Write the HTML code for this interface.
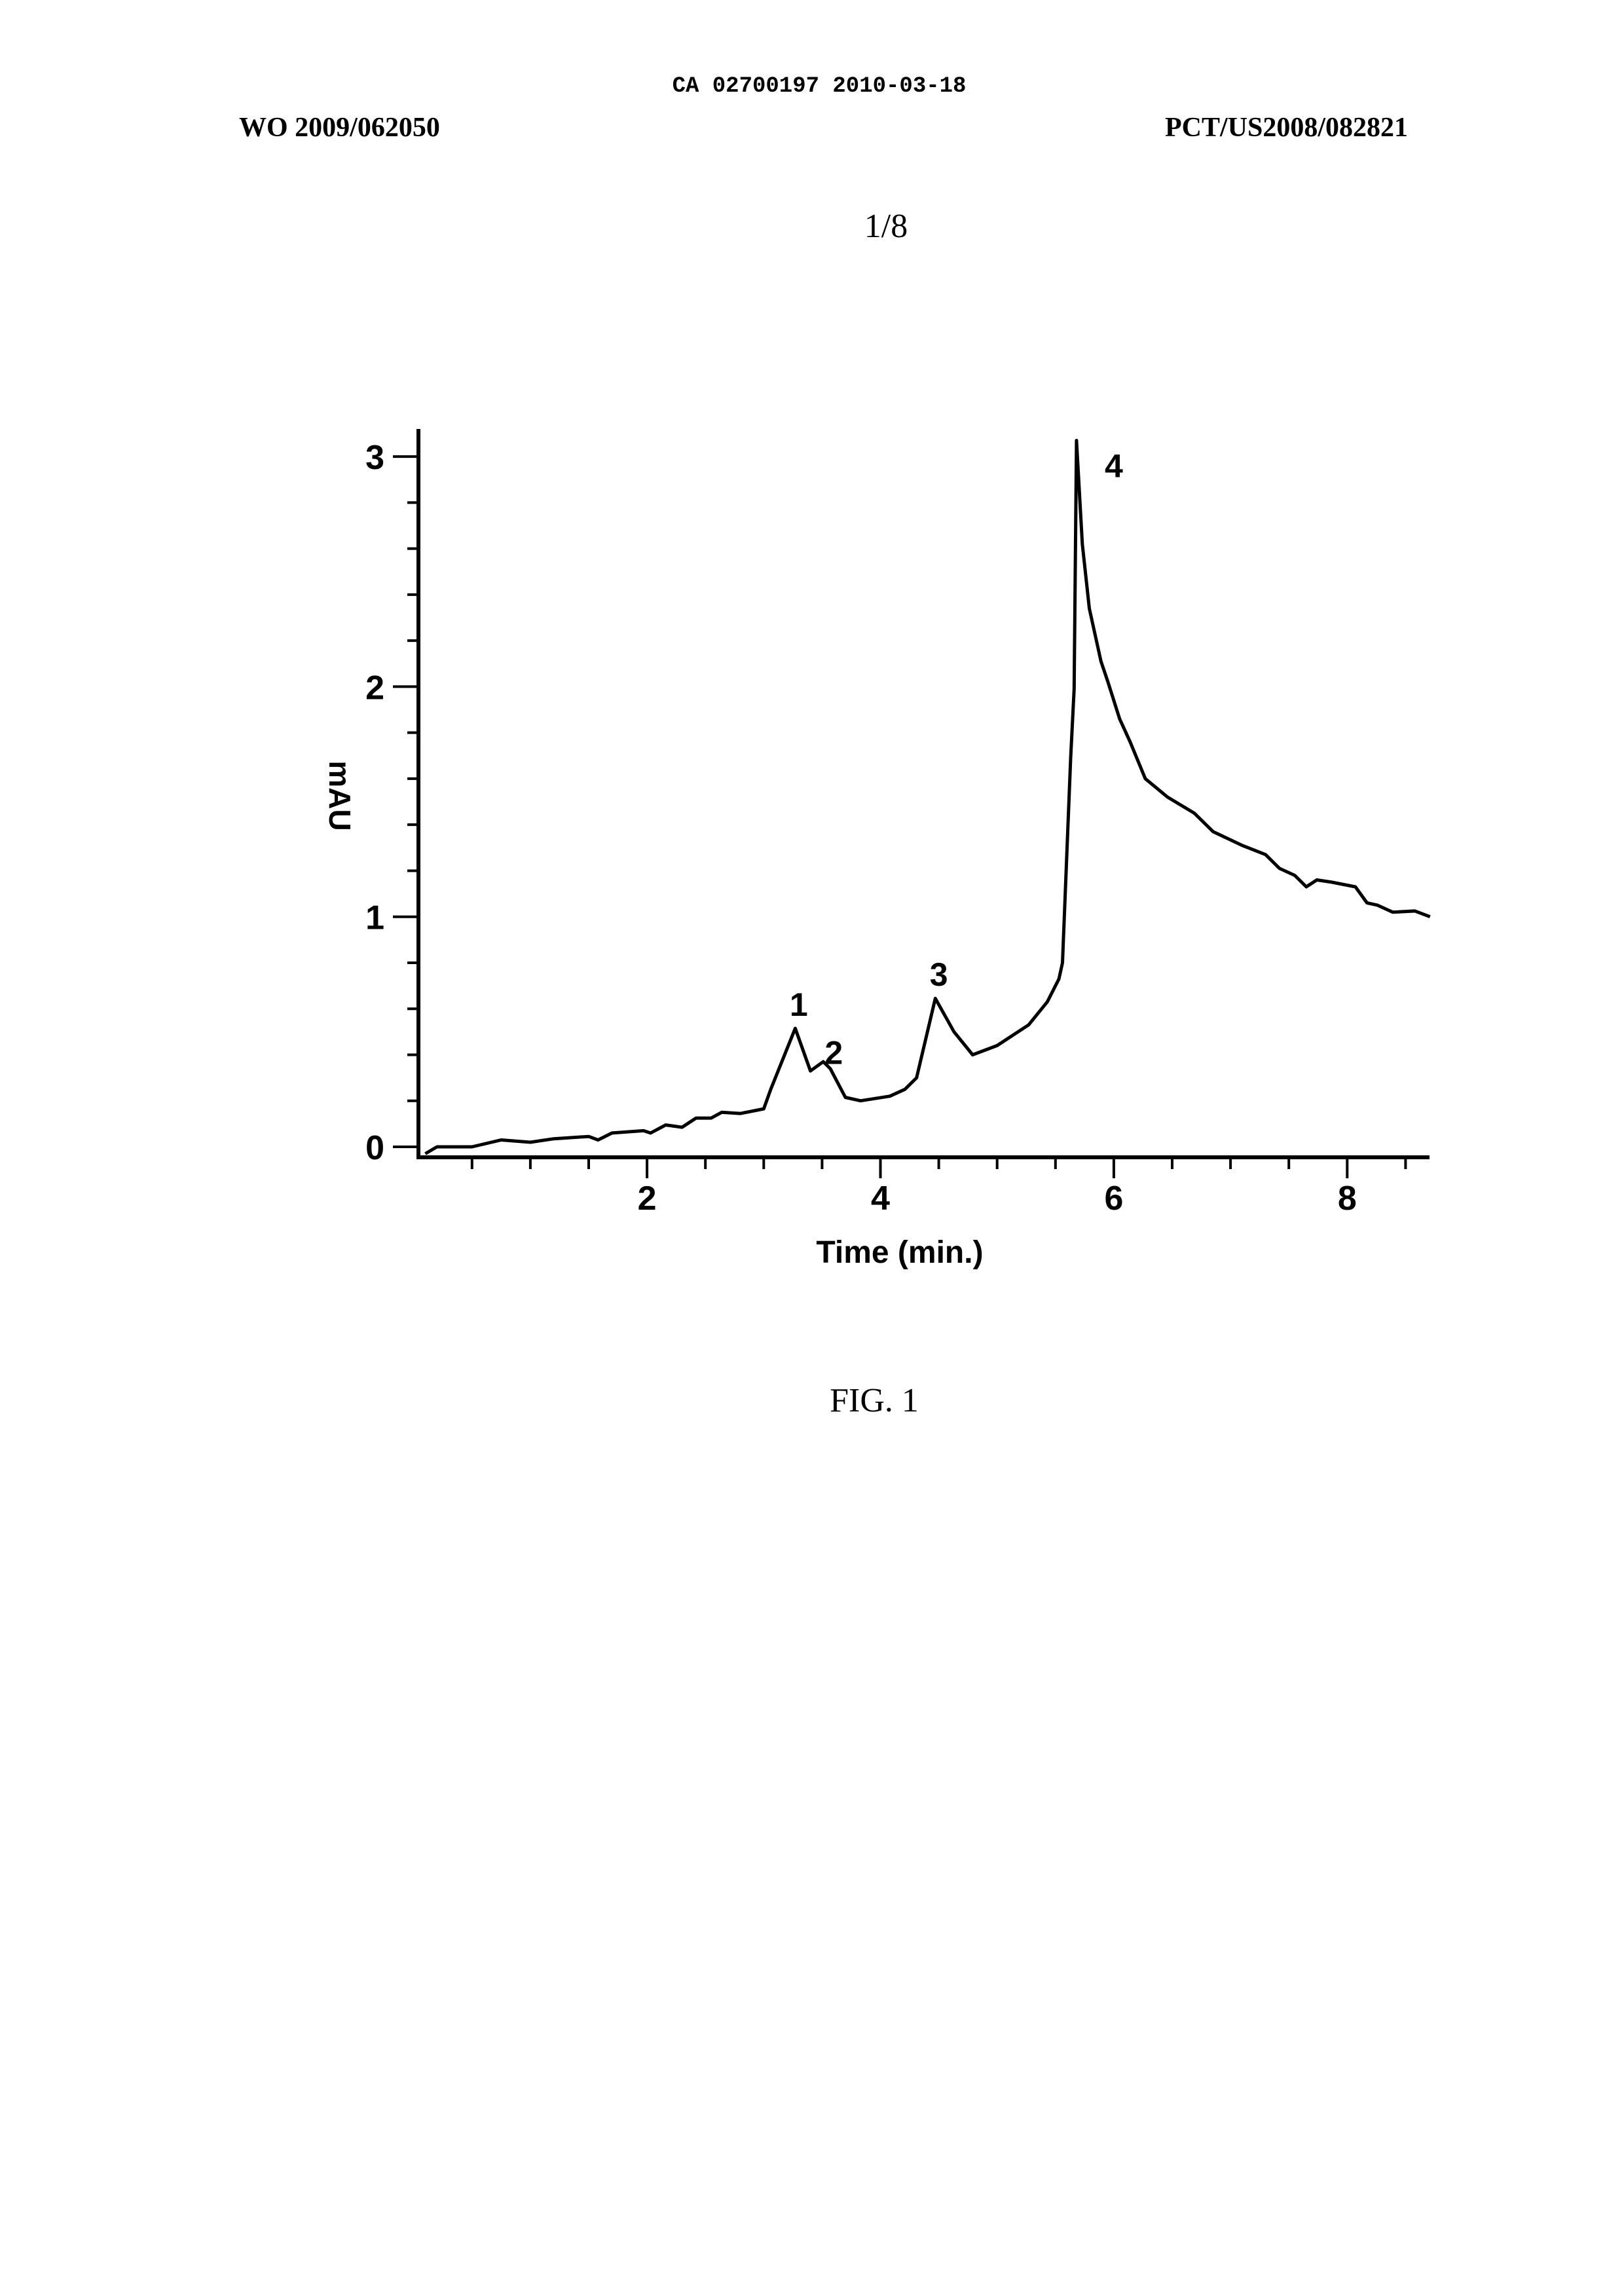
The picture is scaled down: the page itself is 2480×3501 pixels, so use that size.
<!DOCTYPE html>
<html><head><meta charset="utf-8"><style>
html,body{margin:0;padding:0;background:#fff}
svg{display:block}
</style></head><body>
<svg id="page" width="2480" height="3501" viewBox="0 0 2480 3501" xmlns="http://www.w3.org/2000/svg">
<rect width="2480" height="3501" fill="#fff"/>
<text x="1251" y="140" text-anchor="middle" font-family="Liberation Mono, monospace" font-size="34" font-weight="bold" fill="#000">CA 02700197 2010-03-18</text>
<text x="365" y="208" font-family="Liberation Serif, serif" font-size="42" font-weight="bold" fill="#000">WO 2009/062050</text>
<text x="2150" y="208" text-anchor="end" font-family="Liberation Serif, serif" font-size="42" font-weight="bold" fill="#000">PCT/US2008/082821</text>
<text x="1353" y="362" text-anchor="middle" font-family="Liberation Serif, serif" font-size="52" fill="#000">1/8</text>
<g id="chart"></g>
<text x="1335" y="2155" text-anchor="middle" font-family="Liberation Serif, serif" font-size="52" fill="#000">FIG. 1</text>
</svg>
<script>
const times = [0.1,0.2,0.5,0.75,1.0,1.2,1.5,1.58,1.7,1.97,2.03,2.16,2.3,2.42,2.55,2.64,2.8,3.0,3.06,3.27,3.4,3.51,3.57,3.7,3.83,4.08,4.21,4.31,4.47,4.63,4.79,5.0,5.27,5.43,5.53,5.56,5.63,5.66,5.68,5.73,5.79,5.89,5.95,6.05,6.14,6.27,6.46,6.69,6.85,7.1,7.3,7.42,7.55,7.65,7.74,7.87,8.07,8.17,8.26,8.39,8.58,8.71];
const absorbance = [-0.03,0,0,0.03,0.02,0.035,0.045,0.03,0.06,0.07,0.06,0.095,0.085,0.125,0.125,0.15,0.145,0.165,0.25,0.515,0.33,0.37,0.34,0.215,0.2,0.22,0.25,0.3,0.645,0.5,0.4,0.44,0.53,0.63,0.73,0.8,1.69,1.99,3.07,2.62,2.34,2.11,2.02,1.86,1.76,1.6,1.52,1.45,1.37,1.31,1.27,1.21,1.18,1.13,1.16,1.15,1.13,1.06,1.05,1.02,1.025,1.0];
const yTickLabels = [0,1,2,3];
const xTickLabels = [2,4,6,8];
const peakLabels = ["1","2","3","4"];
const peakX = [3.3,3.6,4.5,6.0];
const peakY = [0.57,0.36,0.70,2.91];

const NS="http://www.w3.org/2000/svg";
const g=document.getElementById('chart');
const X0=631.7, XS=178.2, Y0=1751, YS=351.3, AXX=639, AXB=1767, AXT=655, AXR=2183;
const sx=t=>X0+t*XS, sy=v=>Y0-v*YS;
function mk(tag,attrs,parent){const e=document.createElementNS(NS,tag);for(const k in attrs)e.setAttribute(k,attrs[k]);(parent||g).appendChild(e);return e;}
const font='"Liberation Sans", Arial, sans-serif';

let ax=mk('line',{x1:AXX,y1:AXT,x2:AXX,y2:AXB+3,stroke:'#000','stroke-width':6});


let xa=mk('line',{x1:AXX-3,y1:AXB,x2:AXR,y2:AXB,stroke:'#000','stroke-width':6});



for(let v=0;v<=3.0001;v+=0.2){
  const major=Math.abs(v-Math.round(v))<1e-6;
  const t=mk('line',{x1:AXX-(major?39:17),y1:sy(v),x2:AXX,y2:sy(v),stroke:'#000','stroke-width':4});
  
  
}
for(let m=0.5;m<=8.6;m+=0.5){
  const major=Math.abs(m/2-Math.round(m/2))<1e-6;
  const t=mk('line',{x1:sx(m),y1:AXB,x2:sx(m),y2:AXB+(major?32:18),stroke:'#000','stroke-width':4});
  
  
}
yTickLabels.forEach(v=>{
  const t=mk('text',{x:587,y:sy(v)+19,'text-anchor':'end','font-family':font,'font-size':52,'font-weight':'bold',fill:'#000'});
  t.textContent=v;
  
  
});
xTickLabels.forEach(v=>{
  const t=mk('text',{x:sx(v),y:1847,'text-anchor':'middle','font-family':font,'font-size':52,'font-weight':'bold',fill:'#000'});
  t.textContent=v;
  
  
});
let yt=mk('text',{x:0,y:0,'text-anchor':'middle','font-family':font,'font-size':46,'font-weight':'bold',fill:'#000',transform:'translate(503,1215) rotate(90)'});
yt.textContent='mAU';


let xt=mk('text',{x:1374,y:1928,'text-anchor':'middle','font-family':font,'font-size':48,'font-weight':'bold',fill:'#000'});
xt.textContent='Time (min.)';



const d=times.map((t,i)=>(i?'L':'M')+sx(t).toFixed(1)+' '+sy(absorbance[i]).toFixed(1)).join(' ');
let p=mk('path',{d:d,fill:'none',stroke:'#000','stroke-width':5,'stroke-linejoin':'round'});



peakLabels.forEach((l,i)=>{
  const t=mk('text',{x:sx(peakX[i]),y:sy(peakY[i]),'text-anchor':'middle','font-family':font,'font-size':50,'font-weight':'bold',fill:'#000'});
  t.textContent=l;
  
  
});
</script>
</body></html>
